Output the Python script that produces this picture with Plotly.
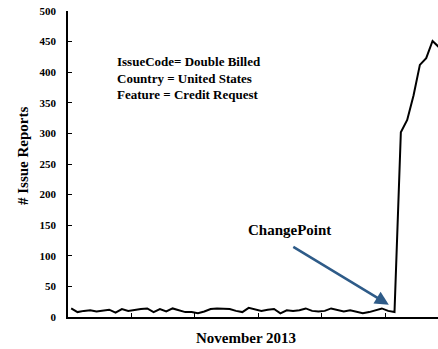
import plotly.graph_objects as go

# Data (daily issue reports)
day_index = list(range(59))
issue_reports = [14, 8, 10, 11, 9, 10, 12, 7, 13, 10,
                 12, 13, 14, 8, 13, 9, 14, 11, 8, 8,
                 6, 9, 13, 14, 13, 13, 10, 8, 15, 12,
                 10, 12, 13, 6, 11, 10, 11, 14, 10, 9,
                 10, 14, 11, 9, 11, 8, 6, 8, 11, 14,
                 10, 8, 302, 322, 362, 412, 423, 451, 441]
y_ticks = [0, 50, 100, 150, 200, 250, 300, 350, 400, 450, 500]
x_tick_positions = [-0.5, 9.5, 19.5, 29.5, 39.5, 49.5]
change_point_index = 51
info_lines = ["IssueCode= Double Billed", "Country = United States", "Feature = Credit Request"]

FONT = "Liberation Serif"

fig = go.Figure()
fig.add_trace(go.Scatter(
    x=day_index, y=issue_reports, mode="lines",
    line=dict(color="black", width=2), hoverinfo="skip", showlegend=False,
))

fig.update_layout(
    width=438, height=349,
    margin=dict(l=68, r=0, t=11, b=32),
    paper_bgcolor="white", plot_bgcolor="white",
    font=dict(family=FONT, color="black", size=11, weight="bold"),
    showlegend=False,
)
fig.update_xaxes(
    range=[-0.5, 57.86], showgrid=False, zeroline=False,
    showline=True, linecolor="black", linewidth=1.5,
    tickmode="array", tickvals=x_tick_positions, ticktext=[""] * len(x_tick_positions),
    ticks="inside", ticklen=4, tickcolor="black", tickwidth=1,
)
fig.update_yaxes(
    range=[0, 500], showgrid=False, zeroline=False,
    showline=True, linecolor="black", linewidth=1.5,
    tickmode="array", tickvals=y_ticks,
    ticks="inside", ticklen=4, tickcolor="black", tickwidth=1,
    tickfont=dict(family=FONT, size=11, weight="bold"),
    ticklabelstandoff=8,
)

annotations = []
for k, line in enumerate(info_lines):
    annotations.append(dict(
        xref="paper", yref="paper", x=(115 - 68) / 370, y=(317 - (62 + 16 * k)) / 306,
        text=line, showarrow=False, xanchor="left", yanchor="middle",
        font=dict(family=FONT, size=13, weight="bold"),
    ))
annotations.append(dict(
    xref="paper", yref="paper", x=(246 - 68) / 370, y=(317 - 338) / 306,
    text="November 2013", showarrow=False, xanchor="center", yanchor="middle",
    font=dict(family=FONT, size=15, weight="bold"),
))
annotations.append(dict(
    xref="paper", yref="paper", x=(23 - 68) / 370, y=(317 - 156) / 306,
    text="# Issue Reports", showarrow=False, textangle=-90,
    xanchor="center", yanchor="middle",
    font=dict(family=FONT, size=15, weight="bold"),
))
annotations.append(dict(
    xref="x", yref="y", x=change_point_index - 0.9, y=issue_reports[change_point_index] + 12,
    ax=change_point_index - 16.2, ay=116,
    axref="x", ayref="y",
    text="", showarrow=True, arrowhead=2, arrowsize=1.1, arrowwidth=2.5,
    arrowcolor="#2E5B88", standoff=0, startstandoff=0,
))
annotations.append(dict(
    xref="paper", yref="paper", x=(289 - 68) / 370, y=(317 - 230) / 306,
    text="ChangePoint", showarrow=False, xanchor="center", yanchor="middle",
    font=dict(family=FONT, size=15, weight="bold"),
))
fig.update_layout(annotations=annotations)

fig.write_html("out.html", config={"displayModeBar": False},
               post_script="document.body.style.margin='0';")
